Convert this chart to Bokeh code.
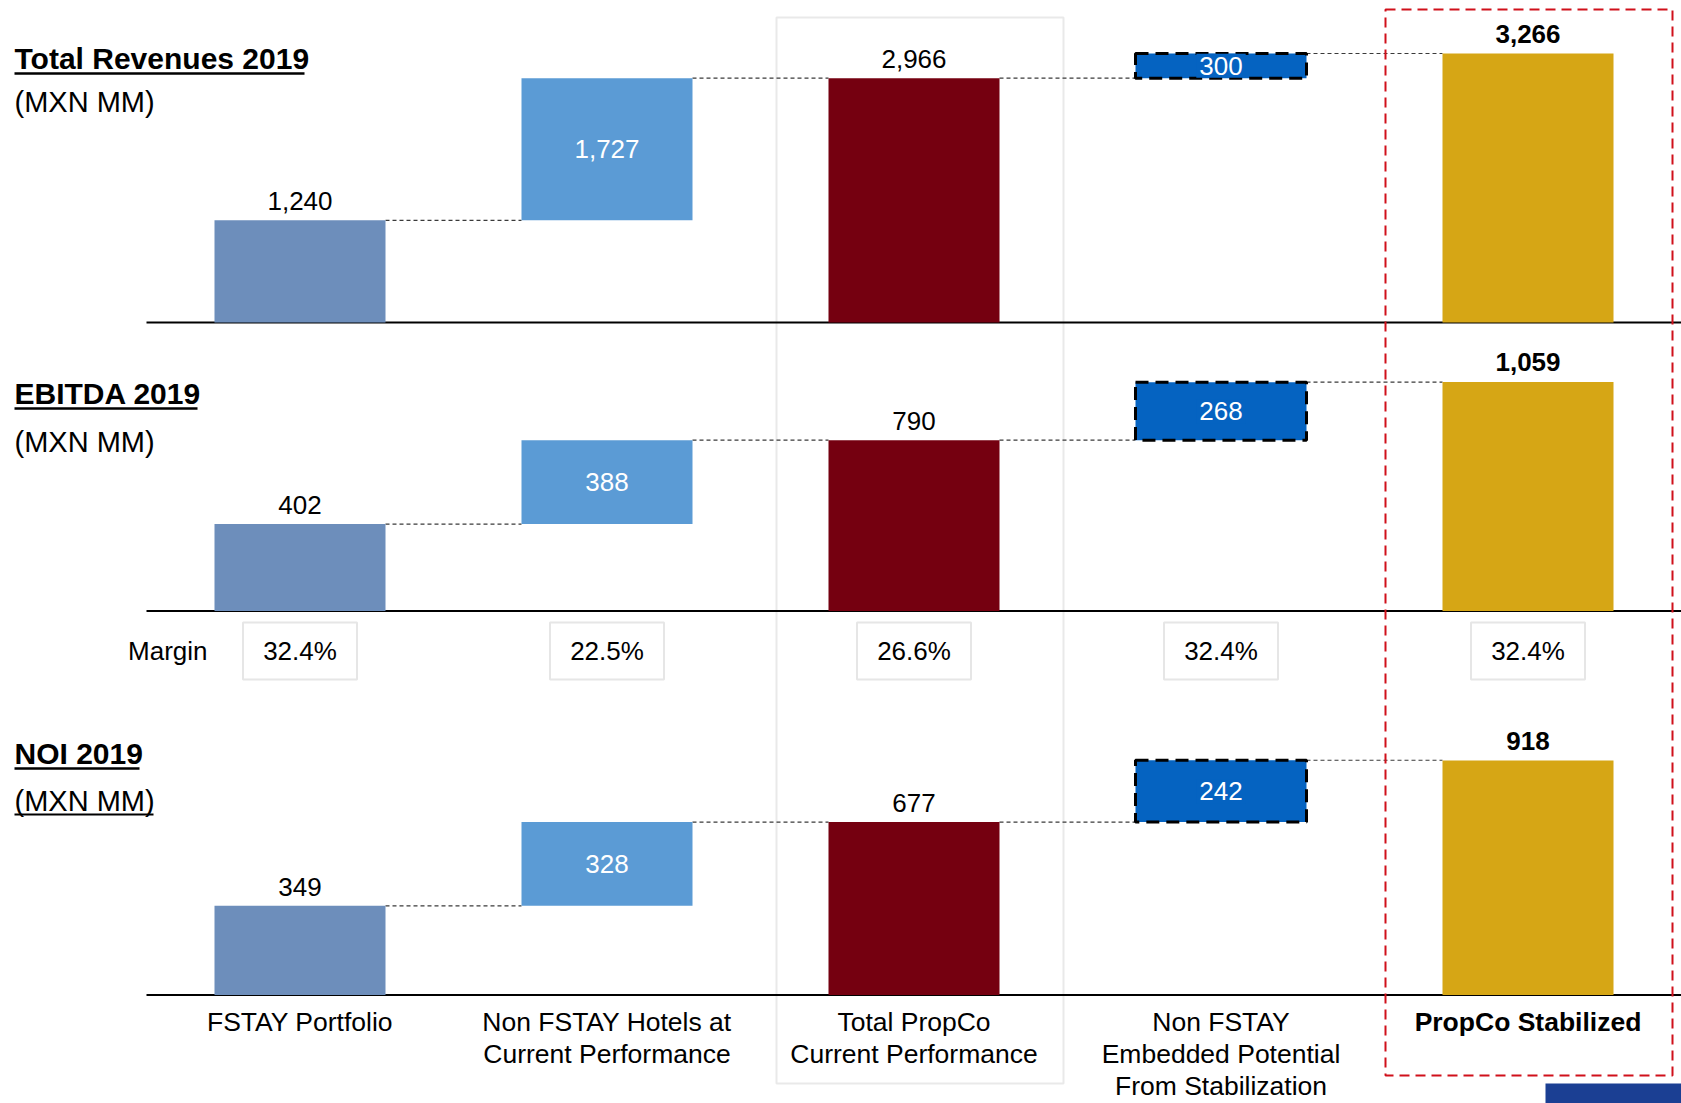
from bokeh.plotting import figure
from bokeh.models import Range1d, ColumnDataSource
from bokeh.embed import file_html
from bokeh.resources import INLINE
from bokeh.core.properties import value

# ---------------- data ----------------
categories = ["FSTAY Portfolio",
              "Non FSTAY Hotels at\nCurrent Performance",
              "Total PropCo\nCurrent Performance",
              "Non FSTAY\nEmbedded Potential\nFrom Stabilization",
              "PropCo Stabilized"]
bar_kind = ["total", "delta", "total", "delta", "total"]
revenues = [1240, 1727, 2966, 300, 3266]
ebitda = [402, 388, 790, 268, 1059]
noi = [349, 328, 677, 242, 918]
margins = ["32.4%", "22.5%", "26.6%", "32.4%", "32.4%"]
panel_titles = ["Total Revenues 2019", "EBITDA 2019", "NOI 2019"]
panel_units = "(MXN MM)"
margin_label = "Margin"

# ---------------- layout (page px) ----------------
W, H = 1681, 1103
FONT = "Liberation Sans"
COL0, COL_STEP, BAR_PX = 299.5, 307.0, 171.0
BASELINES = [322.0, 610.5, 994.5]
MAX_BAR_PX = [269.0, 229.0, 234.5]
TITLE_Y = [58, 393, 753]
UNITS_Y = [101, 441, 800]
TITLE_END = [304, 197, 139]
UNITS_END = 153
CAT_LINE_Y = [1021, 1053, 1085]
MARGIN_Y = 650.5
COLORS = ["#6d8ebb", "#5b9bd5", "#750010", "#0563c1", "#d6a615"]

p = figure(width=W, height=H, x_range=Range1d(0, W), y_range=Range1d(H, 0),
           x_axis_type=None, y_axis_type=None, toolbar_location=None,
           output_backend="svg", min_border=0, outline_line_color=None)
p.background_fill_color = "white"
p.border_fill_color = "white"

p.extra_x_ranges = {"cat": Range1d(-COL0 / COL_STEP, (W - COL0) / COL_STEP)}
bw = BAR_PX / COL_STEP
idx = list(range(len(categories)))

# highlight box around the current total column
p.quad(left=[776], right=[1063], top=[17], bottom=[1083],
       fill_color=None, line_color="#e9e9e9", line_width=2)

series = [revenues, ebitda, noi]
names = ["rev", "ebitda", "noi"]
for k, (name, vals) in enumerate(zip(names, series)):
    b = BASELINES[k]
    s = MAX_BAR_PX[k] / max(vals)
    p.extra_y_ranges[name] = Range1d(start=(b - H) / s, end=b / s)

    bottoms, tops = [], []
    level = 0
    for v, kind in zip(vals, bar_kind):
        if kind == "total":
            bottoms.append(0)
            tops.append(v)
            level = v
        else:
            bottoms.append(level)
            tops.append(level + v)
            level = level + v

    # baseline
    p.segment(x0=[146], x1=[W], y0=[b], y1=[b], line_color="black", line_width=2)

    # connectors
    cx0 = [i + bw / 2 for i in idx[:-1]]
    cx1 = [i + 1 - bw / 2 for i in idx[:-1]]
    cy = tops[:-1]
    p.segment(x0=cx0, x1=cx1, y0=cy, y1=cy, line_color="#3a3a3a", line_width=1.2,
              line_dash="4 3", x_range_name="cat", y_range_name=name)

    labels = [f"{v:,}" for v in vals]
    mids = [(a + c) / 2 for a, c in zip(bottoms, tops)]
    src = ColumnDataSource(dict(x=idx, bottom=bottoms, top=tops, color=COLORS))
    p.vbar(x="x", bottom="bottom", top="top", width=bw, fill_color="color",
           line_color=None, source=src, x_range_name="cat", y_range_name=name)
    # dashed outline on the embedded potential bar
    p.vbar(x=[idx[3]], bottom=[bottoms[3]], top=[tops[3]], width=bw, fill_color=None,
           line_color="black", line_width=3, line_dash="13 7",
           x_range_name="cat", y_range_name=name)

    # labels above total bars
    p.text(x=[idx[0], idx[2]], y=[tops[0], tops[2]], text=[labels[0], labels[2]],
           text_font=value(FONT), text_font_size="26px", text_color="black",
           text_align="center", text_baseline="middle", y_offset=-19,
           x_range_name="cat", y_range_name=name)
    p.text(x=[idx[4]], y=[tops[4]], text=[labels[4]],
           text_font=value(FONT), text_font_size="26px", text_font_style="bold",
           text_color="black", text_align="center", text_baseline="middle",
           y_offset=-20, x_range_name="cat", y_range_name=name)
    # labels inside delta bars
    p.text(x=[idx[1]], y=[mids[1]], text=[labels[1]],
           text_font=value(FONT), text_font_size="26px", text_color="white",
           text_align="center", text_baseline="middle",
           x_range_name="cat", y_range_name=name)
    p.text(x=[idx[3]], y=[mids[3]], text=[labels[3]],
           text_font=value(FONT), text_font_size="26px", text_color="white",
           text_align="center", text_baseline="middle",
           background_fill_color=COLORS[3], padding=3,
           x_range_name="cat", y_range_name=name)

    # panel titles
    p.text(x=[14], y=[TITLE_Y[k]], text=[panel_titles[k]],
           text_font=value(FONT), text_font_size="30px", text_font_style="bold",
           text_color="black", text_align="left", text_baseline="middle")
    p.segment(x0=[14], x1=[TITLE_END[k]], y0=[TITLE_Y[k] + 15],
              y1=[TITLE_Y[k] + 15], line_color="black", line_width=2.5)
    p.text(x=[14], y=[UNITS_Y[k]], text=[panel_units],
           text_font=value(FONT), text_font_size="29px",
           text_color="black", text_align="left", text_baseline="middle")
    if k == 2:
        p.segment(x0=[14], x1=[UNITS_END], y0=[UNITS_Y[k] + 14],
                  y1=[UNITS_Y[k] + 14], line_color="black", line_width=2)

# margin row
p.text(x=[207], y=[MARGIN_Y], text=[margin_label], text_font=value(FONT),
       text_font_size="26px", text_color="black", text_align="right",
       text_baseline="middle")
p.rect(x=idx, y=[MARGIN_Y] * len(idx), width=114, height=57, width_units="screen",
       height_units="screen", fill_color="white", line_color="#e6e6e6",
       line_width=2, x_range_name="cat")
p.text(x=idx, y=[MARGIN_Y] * len(idx), text=margins, text_font=value(FONT),
       text_font_size="26px", text_color="black", text_align="center",
       text_baseline="middle", x_range_name="cat")

# category labels, one line at a time
for i, cat in enumerate(categories):
    for j, line in enumerate(cat.split("\n")):
        p.text(x=[i], y=[CAT_LINE_Y[j]], text=[line], text_font=value(FONT),
               text_font_size="26.5px",
               text_font_style="bold" if i == 4 else "normal",
               text_color="black", text_align="center", text_baseline="middle",
               x_range_name="cat")

# highlight box around the stabilized column
p.quad(left=[1385], right=[1672], top=[9], bottom=[1075],
       fill_color=None, line_color="#d0101b", line_width=2, line_dash="10 6")

# logo strip (cut off at the bottom edge)
p.quad(left=[1545], right=[W], top=[1083], bottom=[H],
       fill_color="#1b3f93", line_color=None)

open("out.html", "w").write(file_html(p, INLINE))
